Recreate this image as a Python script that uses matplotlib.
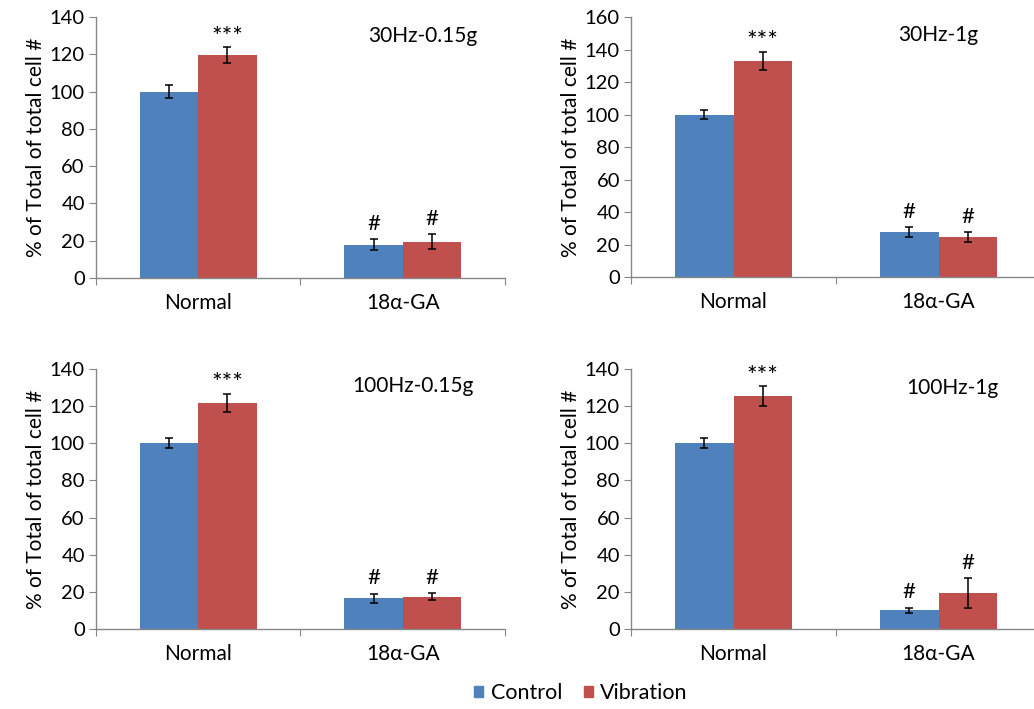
import numpy as np
import matplotlib.pyplot as plt
from matplotlib.patches import Patch

plt.rcParams["font.family"] = ["Lato", "DejaVu Sans"]

# data
groups = ["Normal", "18α-GA"]
series = ["Control", "Vibration"]
panels = ["30Hz-0.15g", "30Hz-1g", "100Hz-0.15g", "100Hz-1g"]
control_mean = [[100, 17.8], [100, 27.5], [100, 16.5], [100, 10.1]]
control_err = [[3.5, 3.0], [2.5, 3.0], [2.6, 2.6], [2.6, 1.4]]
vib_mean = [[119.5, 19.5], [133, 24.5], [121.7, 17.4], [125.3, 19.4]]
vib_err = [[4.2, 4.0], [5.5, 3.0], [5.0, 1.9], [5.4, 8.0]]
ymax = [140, 160, 140, 140]
marks_ctrl = ["", "#"]
marks_vib = ["***", "#"]

blue = "#4F81BD"
red = "#C0504D"
spine = "#868686"

fig = plt.figure(figsize=(10.34, 7.09), dpi=100)
positions = [
    [0.0928, 0.6079, 0.3956, 0.3681],
    [0.6103, 0.6093, 0.3965, 0.3667],
    [0.0928, 0.1128, 0.3956, 0.3667],
    [0.6103, 0.1128, 0.3965, 0.3667],
]
title_xy = [(1.10, 130), (1.00, 149), (1.05, 131), (1.07, 130)]

w = 0.285
x = np.arange(len(groups))
for i in range(4):
    ax = fig.add_axes(positions[i])
    ax.bar(x - w / 2, control_mean[i], w, color=blue, zorder=2)
    ax.bar(x + w / 2, vib_mean[i], w, color=red, zorder=2)
    ax.errorbar(x - w / 2, control_mean[i], yerr=control_err[i], fmt="none",
                ecolor="black", elinewidth=1.1, capsize=2.8, capthick=1.1, zorder=3)
    ax.errorbar(x + w / 2, vib_mean[i], yerr=vib_err[i], fmt="none",
                ecolor="black", elinewidth=1.1, capsize=2.8, capthick=1.1, zorder=3)
    # significance marks
    for j in range(len(groups)):
        if marks_ctrl[j]:
            ax.text(x[j] - w / 2, control_mean[i][j] + control_err[i][j] + ymax[i] * 0.02,
                    marks_ctrl[j], ha="center", va="bottom", fontsize=16)
        if marks_vib[j] == "***":
            ax.text(x[j] + w / 2, vib_mean[i][j] + vib_err[i][j] - ymax[i] * 0.005,
                    marks_vib[j], ha="center", va="bottom", fontsize=18)
        elif marks_vib[j]:
            ax.text(x[j] + w / 2, vib_mean[i][j] + vib_err[i][j] + ymax[i] * 0.02,
                    marks_vib[j], ha="center", va="bottom", fontsize=16)
    ax.text(title_xy[i][0], title_xy[i][1], panels[i], ha="center", va="center", fontsize=15)

    ax.set_xlim(-0.5, 1.5)
    ax.set_ylim(0, ymax[i])
    ax.set_yticks(np.arange(0, ymax[i] + 1, 20))
    ax.set_xticks([-0.5, 0.5, 1.5])
    ax.set_xticklabels([])
    ax.set_xticks(x, minor=True)
    ax.set_xticklabels(groups, minor=True)
    ax.tick_params(axis="x", which="minor", length=0, pad=11, labelsize=15)
    ax.tick_params(axis="x", which="major", length=5, color=spine, direction="out")
    ax.tick_params(axis="y", length=5, color=spine, labelsize=14.5, pad=3)
    ax.set_ylabel("% of Total of total cell #", fontsize=15, labelpad=3)
    for s in ["top", "right"]:
        ax.spines[s].set_visible(False)
    for s in ["left", "bottom"]:
        ax.spines[s].set_color(spine)
        ax.spines[s].set_linewidth(1.0)

handles = [Patch(color=blue, label=series[0]), Patch(color=red, label=series[1])]
fig.legend(handles=handles, loc="center", bbox_to_anchor=(0.562, 0.022), ncol=2,
           frameon=False, fontsize=15.5, handlelength=0.42, handleheight=0.42,
           handletextpad=0.35, columnspacing=1.0)

fig.savefig("out.png", dpi=100)
